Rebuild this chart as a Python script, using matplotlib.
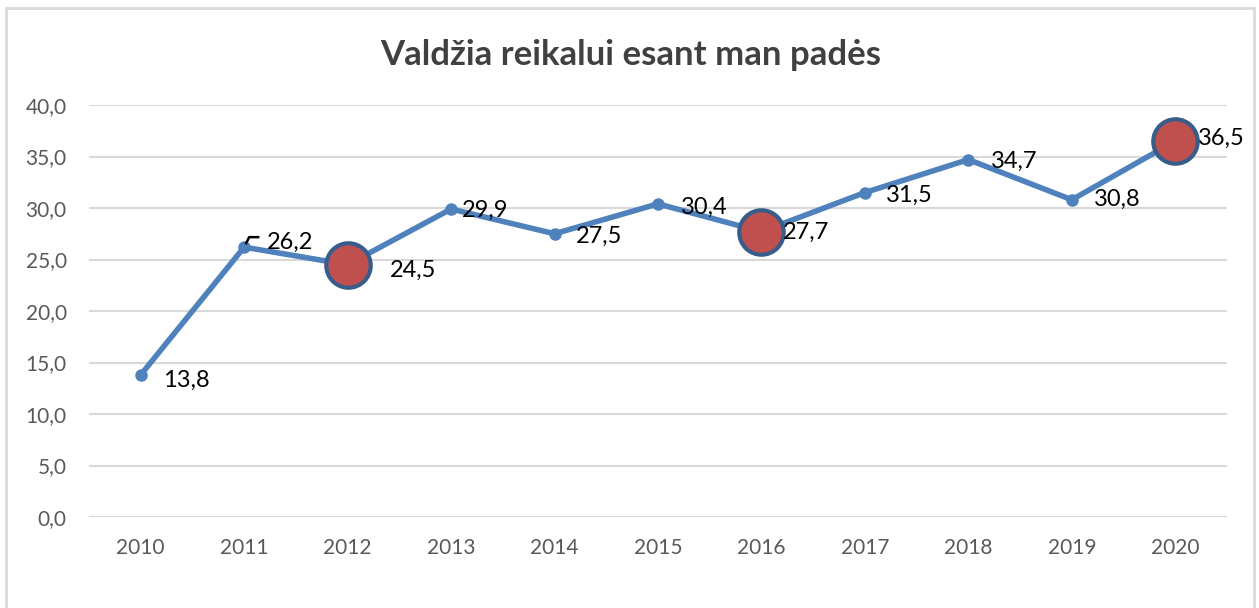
import matplotlib.pyplot as plt
import matplotlib.patches as mpatches
from matplotlib.lines import Line2D
import numpy as np

# -------------------- Data --------------------
years = ["2010", "2011", "2012", "2013", "2014", "2015", "2016", "2017", "2018", "2019", "2020"]
values = [13.8, 26.2, 24.5, 29.9, 27.5, 30.4, 27.7, 31.5, 34.7, 30.8, 36.5]
highlight_years = ["2012", "2016", "2020"]
y_ticks = [0, 5, 10, 15, 20, 25, 30, 35, 40]
title = "Valdžia reikalui esant man padės"

# label offsets in pixels (dx, dy) for each data label
label_offsets = [(22, -5), (23, 5), (42, -6), (11, -1), (21, -3), (23, -3),
                 (21, -1), (21, -3), (23, -2), (22, 0), (23, 3)]

# -------------------- Style --------------------
plt.rcParams['font.family'] = ['Lato', 'DejaVu Sans']
line_color = "#4F81BD"
red_fill = "#C0504D"
red_edge = "#385D8A"
grid_color = "#D9D9D9"
tick_color = "#595959"

fig = plt.figure(figsize=(12.59, 6.08), dpi=100)
ax = fig.add_axes([89 / 1259, 1 - 517 / 608, (1227 - 89) / 1259, (517 - 105) / 608])

# chart border
fig.patches.append(mpatches.Rectangle((6 / 1259, -0.1), (1254 - 6) / 1259, 1.1 - 8 / 608,
                                      transform=fig.transFigure, fill=False,
                                      edgecolor=grid_color, linewidth=2))

x = np.arange(len(years))
ax.plot(x, values, color=line_color, linewidth=4, marker='o', markersize=8,
        markerfacecolor=line_color, markeredgecolor=line_color, zorder=3,
        solid_capstyle='round')

hx = [years.index(y) for y in highlight_years]
hv = [values[i] for i in hx]
ax.plot(hx, hv, linestyle='none', marker='o', markersize=32,
        markerfacecolor=red_fill, markeredgecolor=red_edge, markeredgewidth=3, zorder=4)

for i, (v, (dx, dy)) in enumerate(zip(values, label_offsets)):
    ax.annotate(f"{v:.1f}".replace(".", ","), xy=(i, v), xytext=(dx, dy),
                textcoords='offset pixels', ha='left', va='center',
                fontsize=17, color="black", zorder=5)

ax.set_xlim(-0.5, len(years) - 0.5)
ax.set_ylim(0, 40)
ax.set_yticks(y_ticks)
ax.set_yticklabels([f"{t:.1f}".replace(".", ",") for t in y_ticks])
ax.set_xticks(x)
ax.set_xticklabels(years)
ax.tick_params(axis='both', length=0, labelsize=15, labelcolor=tick_color)
ax.tick_params(axis='x', pad=15)
ax.tick_params(axis='y', pad=16)
ax.grid(axis='y', color=grid_color, linewidth=1.5)
ax.set_axisbelow(True)
for s in ax.spines.values():
    s.set_visible(False)

# leader line for the 2011 label
px, py = ax.transData.transform((1, values[1]))
fig.lines.append(Line2D([px + 2, px + 5, px + 14], [py + 4, py + 10, py + 10],
                        transform=None, color="black", linewidth=1.8, zorder=6))

fig.text(0.501, 1 - 55 / 608, title, ha='center', va='center',
         fontsize=25, fontweight='bold', color="#404040")

fig.savefig("out.png", dpi=100)
